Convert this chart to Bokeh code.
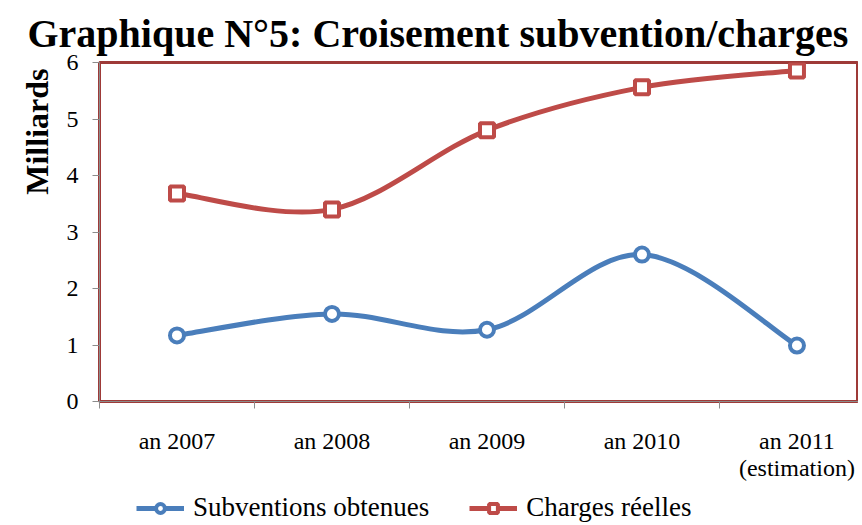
from bokeh.plotting import figure
from bokeh.embed import file_html
from bokeh.resources import INLINE
from bokeh.layouts import column
from bokeh.models import FixedTicker, Legend, LegendItem, ColumnDataSource, Title

categories = ["an 2007", "an 2008", "an 2009", "an 2010", "an 2011\n(estimation)"]
subventions = [1.17, 1.55, 1.27, 2.60, 0.99]
charges = [3.68, 3.40, 4.80, 5.56, 5.86]
series_names = ["Subventions obtenues", "Charges réelles"]
y_ticks = [0, 1, 2, 3, 4, 5, 6]

BLUE = "#4A7EBB"
RED = "#BE4B48"
BORDER = "#9E3A38"
SERIF = "Liberation Serif"

xs = list(range(len(categories)))

p = figure(width=858, height=483, output_backend="svg", toolbar_location=None,
           x_range=(-0.5, 4.397), y_range=(0, 6),
           min_border_left=99, min_border_right=0, min_border_top=62, min_border_bottom=82)

p.title.text = "Graphique N°5: Croisement subvention/charges"
p.title.text_font = SERIF
p.title.text_font_size = "40px"
p.title.text_font_style = "bold"
p.title.text_color = "black"
p.title.text_line_height = 0.8
p.title.offset = -72
p.title.standoff = 14

p.grid.visible = False
p.outline_line_color = BORDER
p.outline_line_width = 3
p.background_fill_color = "white"
p.border_fill_color = "white"


def bezier_segments(x, y):
    n = len(x)
    x0, y0, x1, y1, cx0, cy0, cx1, cy1 = [], [], [], [], [], [], [], []
    for i in range(n - 1):
        xm = x[i - 1] if i > 0 else x[i]
        ym = y[i - 1] if i > 0 else y[i]
        xp = x[i + 2] if i + 2 < n else x[i + 1]
        yp = y[i + 2] if i + 2 < n else y[i + 1]
        x0.append(x[i]); y0.append(y[i]); x1.append(x[i + 1]); y1.append(y[i + 1])
        cx0.append(x[i] + (x[i + 1] - xm) / 6); cy0.append(y[i] + (y[i + 1] - ym) / 6)
        cx1.append(x[i + 1] - (xp - x[i]) / 6); cy1.append(y[i + 1] - (yp - y[i]) / 6)
    return ColumnDataSource(dict(x0=x0, y0=y0, x1=x1, y1=y1, cx0=cx0, cy0=cy0, cx1=cx1, cy1=cy1))


styles = [(subventions, BLUE, "circle"), (charges, RED, "square")]
for vals, color, marker in styles:
    src = bezier_segments(xs, vals)
    p.bezier(x0="x0", y0="y0", x1="x1", y1="y1", cx0="cx0", cy0="cy0", cx1="cx1", cy1="cy1",
             source=src, line_color=color, line_width=5)
    p.scatter(xs, vals, marker=marker, size=14, fill_color="white", line_color=color, line_width=4)

# axes
xa = p.xaxis[0]
xa.ticker = FixedTicker(ticks=xs, minor_ticks=[-0.5, 0.5, 1.5, 2.5, 3.5, 4.5])
xa.major_label_overrides = {i: c for i, c in enumerate(categories)}
xa.major_tick_line_color = None
xa.minor_tick_line_color = "#8C8C8C"
xa.minor_tick_out = 7
xa.minor_tick_in = 0
xa.axis_line_color = "#8C8C8C"
xa.major_label_standoff = 19
xa.major_label_text_font = SERIF
xa.major_label_text_font_size = "24px"
xa.major_label_text_color = "black"
xa.major_label_text_line_height = 1.05

ya = p.yaxis[0]
ya.ticker = FixedTicker(ticks=y_ticks)
ya.minor_tick_line_color = None
ya.major_tick_line_color = "#8C8C8C"
ya.major_tick_out = 7
ya.major_tick_in = 0
ya.axis_line_color = "#8C8C8C"
ya.major_label_standoff = 14
ya.major_label_text_font = SERIF
ya.major_label_text_font_size = "24px"
ya.major_label_text_color = "black"

y_title = Title(text="Milliards", align="right", offset=6, standoff=18,
                text_font=SERIF, text_font_size="32px", text_font_style="bold",
                text_color="black")
p.add_layout(y_title, "left")

# legend strip below the chart (frames of a column are aligned)
lg = figure(width=858, height=40, output_backend="svg", toolbar_location=None,
            x_range=(-0.5, 4.397), y_range=(0, 6),
            x_axis_location=None, y_axis_location=None,
            min_border_left=0, min_border_right=0, min_border_top=0, min_border_bottom=0)
lg.grid.visible = False
lg.outline_line_color = None
items = []
for (vals, color, marker), name in zip(styles, series_names):
    l = lg.line(xs, vals, line_color=color, line_width=5, visible=False)
    s = lg.scatter(xs, vals, marker=marker, size=14, fill_color="white", line_color=color,
                   line_width=4, visible=False)
    items.append(LegendItem(label=name, renderers=[l, s]))
legend = Legend(items=items, orientation="horizontal", location=(37, 0),
                label_text_font=SERIF, label_text_font_size="27px", label_text_color="black",
                glyph_width=48, glyph_height=22, spacing=40, padding=0, margin=0,
                label_standoff=9, border_line_color=None, background_fill_alpha=0,
                inactive_fill_alpha=0)
lg.add_layout(legend, "center")

layout = column(p, lg, spacing=0)
open("out.html", "w").write(file_html(layout, INLINE))
